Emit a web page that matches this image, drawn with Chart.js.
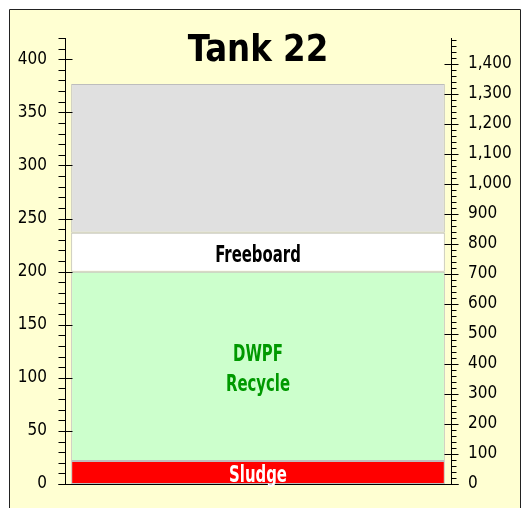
<!DOCTYPE html>
<html><head><meta charset="utf-8">
<script src="https://cdn.jsdelivr.net/npm/chart.js@4"></script>
<style>html,body{margin:0;padding:0;background:#fff;}canvas{display:block;}</style>
</head><body>
<canvas id="c" width="522" height="508"></canvas>
<script>
// ---- data ----
const title = 'Tank 22';
const categories = ['Tank 22'];
const layerNames = ['Sludge', 'DWPF Recycle', 'Freeboard', ''];
const layerHeights = [21.7, 178.1, 36.8, 140.0]; // inches, bottom to top
const layerLabelLines = [['Sludge'], ['DWPF', 'Recycle'], ['Freeboard'], []];
const leftMax = 420;          // inches
const kgalPerInch = 3.537;    // right axis conversion
const leftMajor = 50, leftMinor = 10;
const rightMajor = 100, rightMinor = 20;

// ---- styles ----
const fillColors = ['#FF0000', '#CCFFCC', '#FFFFFF', '#E0E0E0'];
const textColors = ['#FFFFFF', '#009900', '#000000', '#000000'];
const panelColor = '#FFFFD2';
const tickFont = {family: '"DejaVu Sans Condensed", "DejaVu Sans"', size: 17};

function drawNarrowText(ctx, text, x, y, font, color, sx) {
  ctx.save();
  ctx.font = font;
  ctx.fillStyle = color;
  ctx.textAlign = 'center';
  ctx.textBaseline = 'alphabetic';
  ctx.translate(x, y);
  ctx.scale(sx, 1);
  ctx.fillText(text, 0, 0);
  ctx.restore();
}

const deco = {
  id: 'deco',
  beforeDraw(chart) {
    const ctx = chart.ctx;
    ctx.save();
    ctx.fillStyle = '#fff';
    ctx.fillRect(0, 0, chart.width, chart.height);
    ctx.fillStyle = panelColor;
    ctx.fillRect(10, 10, 511, chart.height);
    ctx.strokeStyle = '#222';
    ctx.lineWidth = 1;
    ctx.beginPath();
    ctx.moveTo(9.5, chart.height); ctx.lineTo(9.5, 9.5); ctx.lineTo(520.5, 9.5); ctx.lineTo(520.5, chart.height);
    ctx.stroke();
    ctx.restore();
  },
  afterDraw(chart) {
    const ctx = chart.ctx;
    const yl = chart.scales.y, yr = chart.scales.y2;
    const a = chart.chartArea;
    ctx.save();
    ctx.strokeStyle = '#000';
    ctx.lineWidth = 1;
    // left axis
    const lx = Math.round(a.left) + 0.5;
    ctx.beginPath();
    ctx.moveTo(lx, a.top); ctx.lineTo(lx, a.bottom);
    for (let v = 0; v <= leftMax; v += leftMinor) {
      const py = Math.round(yl.getPixelForValue(v)) + 0.5;
      if (v % leftMajor === 0) { ctx.moveTo(lx - 7, py); ctx.lineTo(lx + 7, py); }
      else { ctx.moveTo(lx - 7, py); ctx.lineTo(lx, py); }
    }
    // right axis
    const rx = Math.round(a.right) + 0.5;
    ctx.moveTo(rx, a.top); ctx.lineTo(rx, a.bottom);
    for (let v = 0; v <= yr.max; v += rightMinor) {
      const py = Math.round(yr.getPixelForValue(v)) + 0.5;
      if (v % rightMajor === 0) { ctx.moveTo(rx - 7, py); ctx.lineTo(rx + 7, py); }
      else { ctx.moveTo(rx, py); ctx.lineTo(rx + 5, py); }
    }
    // baseline
    const by = Math.round(yl.getPixelForValue(0)) + 0.5;
    ctx.moveTo(lx - 7, by); ctx.lineTo(rx + 7, by);
    ctx.stroke();
    ctx.restore();

    // title
    drawNarrowText(ctx, title, (a.left + a.right) / 2, 61, 'bold 38px "DejaVu Sans Condensed", "DejaVu Sans"', '#000', 0.95);

    // layer labels
    const cx = (a.left + a.right) / 2;
    const font = 'bold 23px "DejaVu Sans Condensed", "DejaVu Sans"';
    let base = 0;
    layerHeights.forEach((h, i) => {
      const lines = layerLabelLines[i];
      const mid = yl.getPixelForValue(base + h / 2);
      base += h;
      if (!lines.length) return;
      const lh = 30, cap = 17;
      const n = lines.length;
      lines.forEach((t, k) => {
        const cy = mid + (k - (n - 1) / 2) * lh + 1;
        drawNarrowText(ctx, t, cx, cy + cap / 2, font, textColors[i], 0.72);
      });
    });
  }
};

new Chart(document.getElementById('c'), {
  type: 'bar',
  data: {
    labels: categories,
    datasets: layerNames.map((n, i) => ({
      label: n,
      data: [layerHeights[i]],
      backgroundColor: fillColors[i],
      borderColor: '#BDBDBD',
      borderWidth: 1,
      borderSkipped: false,
      yAxisID: 'y',
      barPercentage: 1,
      categoryPercentage: 0.968
    }))
  },
  options: {
    responsive: false,
    animation: false,
    devicePixelRatio: 1,
    layout: {padding: {top: 38, bottom: 24, left: 0, right: 0}},
    plugins: {legend: {display: false}, tooltip: {enabled: false}, title: {display: false}},
    scales: {
      x: {display: false, stacked: true},
      y: {
        stacked: true, position: 'left', min: 0, max: leftMax,
        grid: {display: false, drawTicks: false}, border: {display: false},
        afterBuildTicks(s) { const t = []; for (let v = 0; v <= leftMax; v += leftMinor) t.push({value: v}); s.ticks = t; },
        ticks: {
          autoSkip: false, padding: 18, color: '#000', font: tickFont,
          callback: (v) => (v % leftMajor === 0 && v <= 400) ? String(v) : ''
        },
        afterFit(s) { s.width = 65; s.paddingTop = 0; s.paddingBottom = 0; }
      },
      y2: {
        position: 'right', min: 0, max: leftMax * kgalPerInch,
        grid: {display: false, drawTicks: false}, border: {display: false},
        afterBuildTicks(s) { const t = []; for (let v = 0; v <= s.max; v += rightMinor) t.push({value: v}); s.ticks = t; },
        ticks: {
          autoSkip: false, padding: 17, color: '#000', font: tickFont,
          callback: (v) => (v % rightMajor === 0) ? v.toLocaleString('en-US') : ''
        },
        afterFit(s) { s.width = 71; s.paddingTop = 0; s.paddingBottom = 0; }
      }
    }
  },
  plugins: [deco]
});
</script>
</body></html>
